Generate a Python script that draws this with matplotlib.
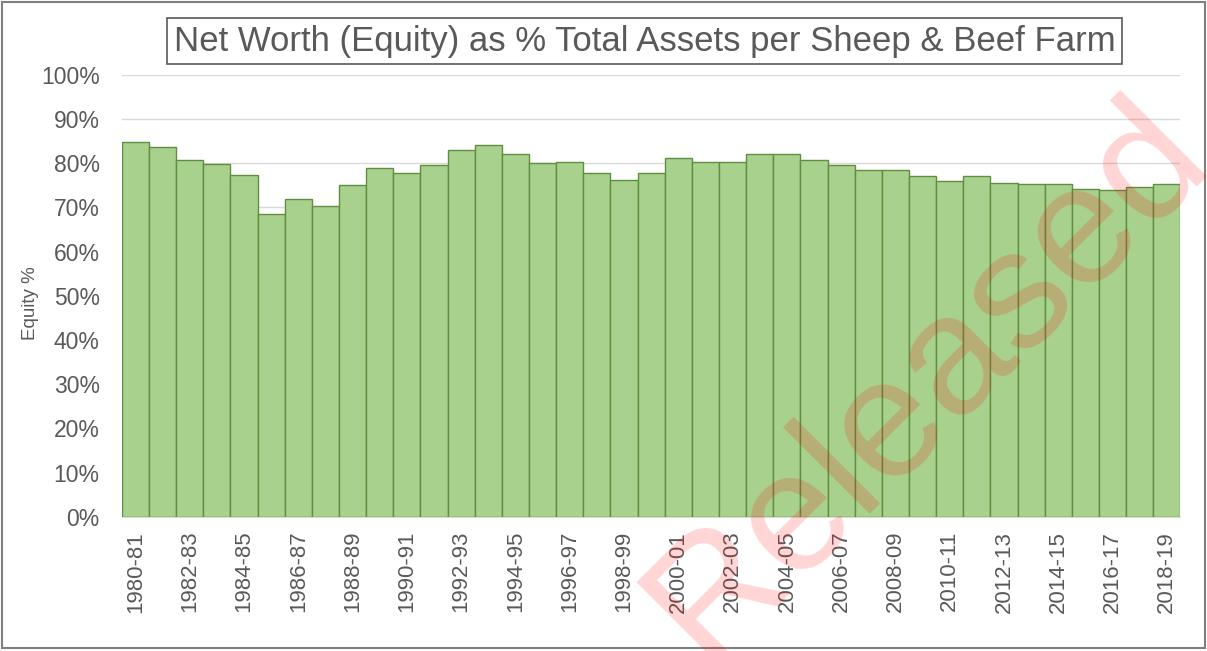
import numpy as np
import matplotlib.pyplot as plt
from matplotlib.patches import Rectangle

plt.rcParams['font.family'] = ['Liberation Sans', 'DejaVu Sans']

# Seasons 1980-81 .. 2018-19 and equity share (%).
seasons = ['%d-%02d' % (y, (y + 1) % 100) for y in range(1980, 2019)]
equity_pct = [84.9, 83.7, 80.8, 79.9, 77.3, 68.6, 71.9, 70.4, 75.0, 79.0,
              77.7, 79.7, 82.9, 84.1, 82.1, 80.0, 80.3, 77.7, 76.2, 77.7,
              81.1, 80.2, 80.2, 82.1, 82.1, 80.8, 79.6, 78.5, 78.5, 77.1,
              75.9, 77.1, 75.6, 75.3, 75.3, 74.2, 74.0, 74.7, 75.3]
y_ticks = np.arange(0, 101, 10)

grey = '#595959'

fig = plt.figure(figsize=(12.07, 6.51), dpi=100)
ax = fig.add_axes([0.101, 0.206, 0.877, 0.679])

x = np.arange(len(seasons))
ax.bar(x, equity_pct, width=1.0, color='#A9D18E', edgecolor='#5E8E3E',
       linewidth=1.0, zorder=3)

ax.set_xlim(-0.5, len(seasons) - 0.5)
ax.set_ylim(0, 100)
ax.set_yticks(y_ticks)
ax.set_yticklabels(['%d%%' % v for v in y_ticks])
ax.set_xticks(x[::2])
ax.set_xticklabels(seasons[::2], rotation=90)
ax.tick_params(axis='y', length=0, pad=16, labelsize=16.5, labelcolor=grey)
ax.tick_params(axis='x', length=0, pad=10, labelsize=16, labelcolor=grey)
ax.grid(axis='y', color='#D9D9D9', linewidth=1.0, zorder=0)
for side in ['left', 'right', 'top']:
    ax.spines[side].set_visible(False)
ax.spines['bottom'].set_color('#D9D9D9')

fig.text(0.025, 0.535, 'Equity %', rotation=90, ha='center', va='center',
         fontsize=13.5, color=grey)

fig.text(0.534, 0.937, 'Net Worth (Equity) as % Total Assets per Sheep & Beef Farm',
         ha='center', va='center', fontsize=25, color=grey,
         bbox=dict(boxstyle='square,pad=0.18', facecolor='white',
                   edgecolor='#595959', linewidth=1.2))

# watermark
fig.text(0.768, 0.415, 'Released', rotation=45, rotation_mode='anchor',
         ha='center', va='center', fontsize=122, color='red', alpha=0.17)

fig.patches.append(Rectangle((0.002, 0.004), 0.996, 0.993, transform=fig.transFigure,
                             fill=False, edgecolor='#7F7F7F', linewidth=1.5))

fig.savefig('out.png', dpi=100)
